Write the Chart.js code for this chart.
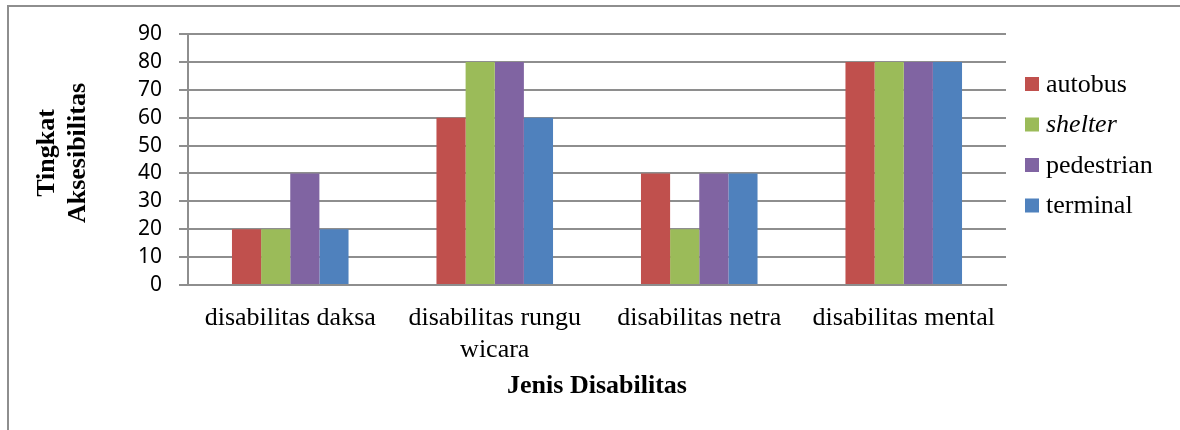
<!DOCTYPE html>
<html>
<head>
<meta charset="utf-8">
<script src="https://cdn.jsdelivr.net/npm/chart.js@4.4.1/dist/chart.umd.min.js"></script>
<style>
  html, body { margin: 0; padding: 0; background: #ffffff; }
  #wrap { width: 1180px; height: 430px; position: relative; }
</style>
</head>
<body>
<div id="wrap"><canvas id="c" width="1180" height="430"></canvas></div>
<script>
// Categories (jenis disabilitas) and accessibility scores per facility
const categories = ['disabilitas daksa', ['disabilitas rungu', 'wicara'], 'disabilitas netra', 'disabilitas mental'];
const autobus    = [20, 60, 40, 80];
const shelter    = [20, 80, 20, 80];
const pedestrian = [40, 80, 40, 80];
const terminal   = [20, 60, 40, 80];
const yTicks     = [0, 10, 20, 30, 40, 50, 60, 70, 80, 90];

const seriesNames  = ['autobus', 'shelter', 'pedestrian', 'terminal'];
const seriesItalic = [false, true, false, false];
const seriesColors = ['#C0504D', '#9BBB59', '#8064A2', '#4F81BD'];
const seriesData   = [autobus, shelter, pedestrian, terminal];

const GRID = '#8e8e8e';
const SERIF = '"Liberation Serif", "Times New Roman", serif';

// Frame, axis titles and legend drawn on the canvas
const decorations = {
  id: 'decorations',
  afterDraw(chart) {
    const ctx = chart.ctx;
    const area = chart.chartArea;
    ctx.save();

    // outer frame (left and top edges)
    ctx.strokeStyle = GRID;
    ctx.lineWidth = 2;
    ctx.beginPath();
    ctx.moveTo(8, 432);
    ctx.lineTo(8, 6);
    ctx.lineTo(1182, 6);
    ctx.stroke();

    ctx.fillStyle = '#000';

    // y-axis title, two lines, rotated
    ctx.font = 'bold 26px ' + SERIF;
    ctx.textAlign = 'center';
    ctx.textBaseline = 'middle';
    ctx.save();
    ctx.translate(47, 153);
    ctx.rotate(-Math.PI / 2);
    ctx.fillText('Tingkat', 0, 0);
    ctx.restore();
    ctx.save();
    ctx.translate(78, 153);
    ctx.rotate(-Math.PI / 2);
    ctx.fillText('Aksesibilitas', 0, 0);
    ctx.restore();

    // x-axis title
    ctx.fillText('Jenis Disabilitas', (area.left + area.right) / 2, 386);

    // legend
    const lx = 1025, ly0 = 84, step = 40.5, box = 14;
    chart.data.datasets.forEach((ds, i) => {
      const cy = ly0 + i * step;
      ctx.fillStyle = ds.backgroundColor;
      ctx.fillRect(lx, cy - box / 2, box, box);
      ctx.fillStyle = '#000';
      ctx.textAlign = 'left';
      ctx.textBaseline = 'middle';
      ctx.font = (seriesItalic[i] ? 'italic ' : '') + '26px ' + SERIF;
      ctx.fillText(ds.label, lx + 21, cy + 1);
    });
    ctx.restore();
  }
};

new Chart(document.getElementById('c'), {
  type: 'bar',
  data: {
    labels: categories,
    datasets: seriesNames.map((name, i) => ({
      label: name,
      data: seriesData[i],
      backgroundColor: seriesColors[i],
      borderWidth: 0,
      categoryPercentage: 0.57,
      barPercentage: 1.0
    }))
  },
  options: {
    responsive: false,
    animation: false,
    layout: { padding: { top: 34, right: 174, bottom: 0, left: 0 } },
    plugins: {
      legend: { display: false },
      tooltip: { enabled: false },
      title: { display: false }
    },
    scales: {
      x: {
        grid: { display: false, drawTicks: false },
        border: { display: true, color: GRID, width: 2 },
        ticks: {
          color: '#000',
          font: { family: SERIF, size: 26, lineHeight: 1.2 },
          padding: 18,
          maxRotation: 0,
          autoSkip: false
        },
        afterFit(scale) { scale.height = 145; }
      },
      y: {
        min: 0,
        max: 90,
        afterBuildTicks(scale) { scale.ticks = yTicks.map(v => ({ value: v })); },
        grid: { color: GRID, lineWidth: 2, tickLength: 9, drawTicks: true },
        border: { display: true, color: GRID, width: 2 },
        ticks: {
          color: '#000',
          font: { family: '"Noto Sans", sans-serif', size: 21 },
          padding: 17,
          autoSkip: false
        },
        afterFit(scale) { scale.width = 188; }
      }
    }
  },
  plugins: [decorations]
});
</script>
</body>
</html>
